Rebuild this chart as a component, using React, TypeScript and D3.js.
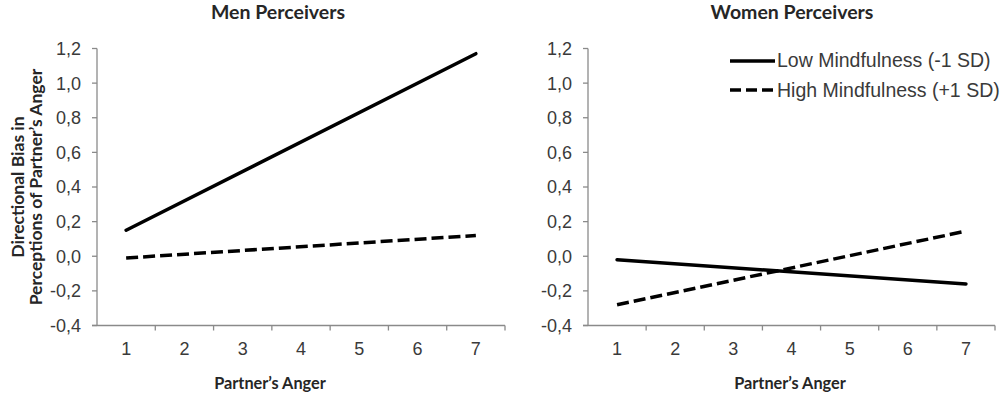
import React from "react";
import * as d3 from "d3";

const categories = ["1", "2", "3", "4", "5", "6", "7"];
const yTicks = [-0.4, -0.2, 0, 0.2, 0.4, 0.6, 0.8, 1.0, 1.2];

// endpoints at anger = 1 and anger = 7
const menLow = [{ x: "1", y: 0.15 }, { x: "7", y: 1.17 }];
const menHigh = [{ x: "1", y: -0.01 }, { x: "7", y: 0.12 }];
const womenLow = [{ x: "1", y: -0.02 }, { x: "7", y: -0.16 }];
const womenHigh = [{ x: "1", y: -0.28 }, { x: "7", y: 0.145 }];

const seriesNames = ["Low Mindfulness (-1 SD)", "High Mindfulness (+1 SD)"];

const panels = [
  { title: "Men Perceivers", left: 97, right: 505, titleX: 278, xTitleX: 270, low: menLow, high: menHigh },
  { title: "Women Perceivers", left: 588, right: 995, titleX: 792, xTitleX: 790, low: womenLow, high: womenHigh },
];

const TOP = 48.5;
const BOTTOM = 325.5;
const axisColor = "#8a8a8a";
const textColor = "#3a3a3a";
const titleFont = "Lato, 'Open Sans', sans-serif";
const tickFont = "'Liberation Sans', Arial, sans-serif";

function Panel({ p }: { p: typeof panels[number] }) {
  const x = d3.scaleBand<string>().domain(categories).range([p.left, p.right]);
  const y = d3.scaleLinear().domain([-0.4, 1.2]).range([BOTTOM, TOP]);
  const cx = (c: string) => (x(c) as number) + x.bandwidth() / 2;
  const line = d3
    .line<{ x: string; y: number }>()
    .x((d) => cx(d.x))
    .y((d) => y(d.y));
  const bounds = categories.map((c) => x(c) as number).concat([p.right]);
  return (
    <g>
      <text
        x={p.titleX}
        y={18.5}
        textAnchor="middle"
        fontFamily={titleFont}
        fontWeight="bold"
        fontSize={19.5}
        fill="#262626"
      >
        {p.title}
      </text>
      {/* y axis */}
      <line x1={p.left} x2={p.left} y1={TOP} y2={BOTTOM} stroke={axisColor} strokeWidth={1.3} />
      {yTicks.map((t) => (
        <g key={t}>
          <line x1={p.left - 5} x2={p.left} y1={y(t)} y2={y(t)} stroke={axisColor} strokeWidth={1.3} />
          <text
            x={p.left - 16}
            y={y(t)}
            dy="0.36em"
            textAnchor="end"
            fontFamily={tickFont}
            fontSize={18}
            fill={textColor}
          >
            {d3.format(".1f")(t).replace(".", ",").replace("−", "-")}
          </text>
        </g>
      ))}
      {/* x axis */}
      <line x1={p.left - 5} x2={p.right} y1={BOTTOM} y2={BOTTOM} stroke={axisColor} strokeWidth={1.3} />
      {bounds.slice(1).map((b, i) => (
        <line key={i} x1={b} x2={b} y1={BOTTOM} y2={BOTTOM + 5} stroke={axisColor} strokeWidth={1.3} />
      ))}
      {categories.map((c) => (
        <text
          key={c}
          x={cx(c)}
          y={355}
          textAnchor="middle"
          fontFamily={tickFont}
          fontSize={18}
          fill={textColor}
        >
          {c}
        </text>
      ))}
      <text
        x={p.xTitleX}
        y={389}
        textAnchor="middle"
        fontFamily={titleFont}
        fontWeight="bold"
        fontSize={16.3}
        fill="#262626"
      >
        Partner’s Anger
      </text>
      <path d={line(p.low) || ""} fill="none" stroke="#000" strokeWidth={3.5} strokeLinecap="round" />
      <path d={line(p.high) || ""} fill="none" stroke="#000" strokeWidth={3.5} strokeDasharray="12,5" />
    </g>
  );
}

export default function App() {
  return (
    <svg width={1000} height={396} style={{ position: "absolute", left: 0, top: 0, background: "#fff" }}>
      <rect width={1000} height={396} fill="#fff" />
      {panels.map((p) => (
        <Panel key={p.title} p={p} />
      ))}
      <g transform="translate(0,187) rotate(-90)">
        <text x={0} y={24} textAnchor="middle" fontFamily={titleFont} fontWeight="bold" fontSize={17.5} fill="#262626">
          Directional Bias in
        </text>
        <text x={0} y={42} textAnchor="middle" fontFamily={titleFont} fontWeight="bold" fontSize={17.5} fill="#262626">
          Perceptions of Partner’s Anger
        </text>
      </g>
      {/* legend */}
      <line x1={730} x2={775} y1={61} y2={61} stroke="#000" strokeWidth={3.5} />
      <text x={777} y={67} fontFamily={tickFont} fontSize={19.5} fill={textColor}>
        {seriesNames[0]}
      </text>
      <line x1={730} x2={775} y1={90} y2={90} stroke="#000" strokeWidth={3.5} strokeDasharray="11,5" />
      <text x={777} y={96.5} fontFamily={tickFont} fontSize={19.5} fill={textColor}>
        {seriesNames[1]}
      </text>
    </svg>
  );
}
